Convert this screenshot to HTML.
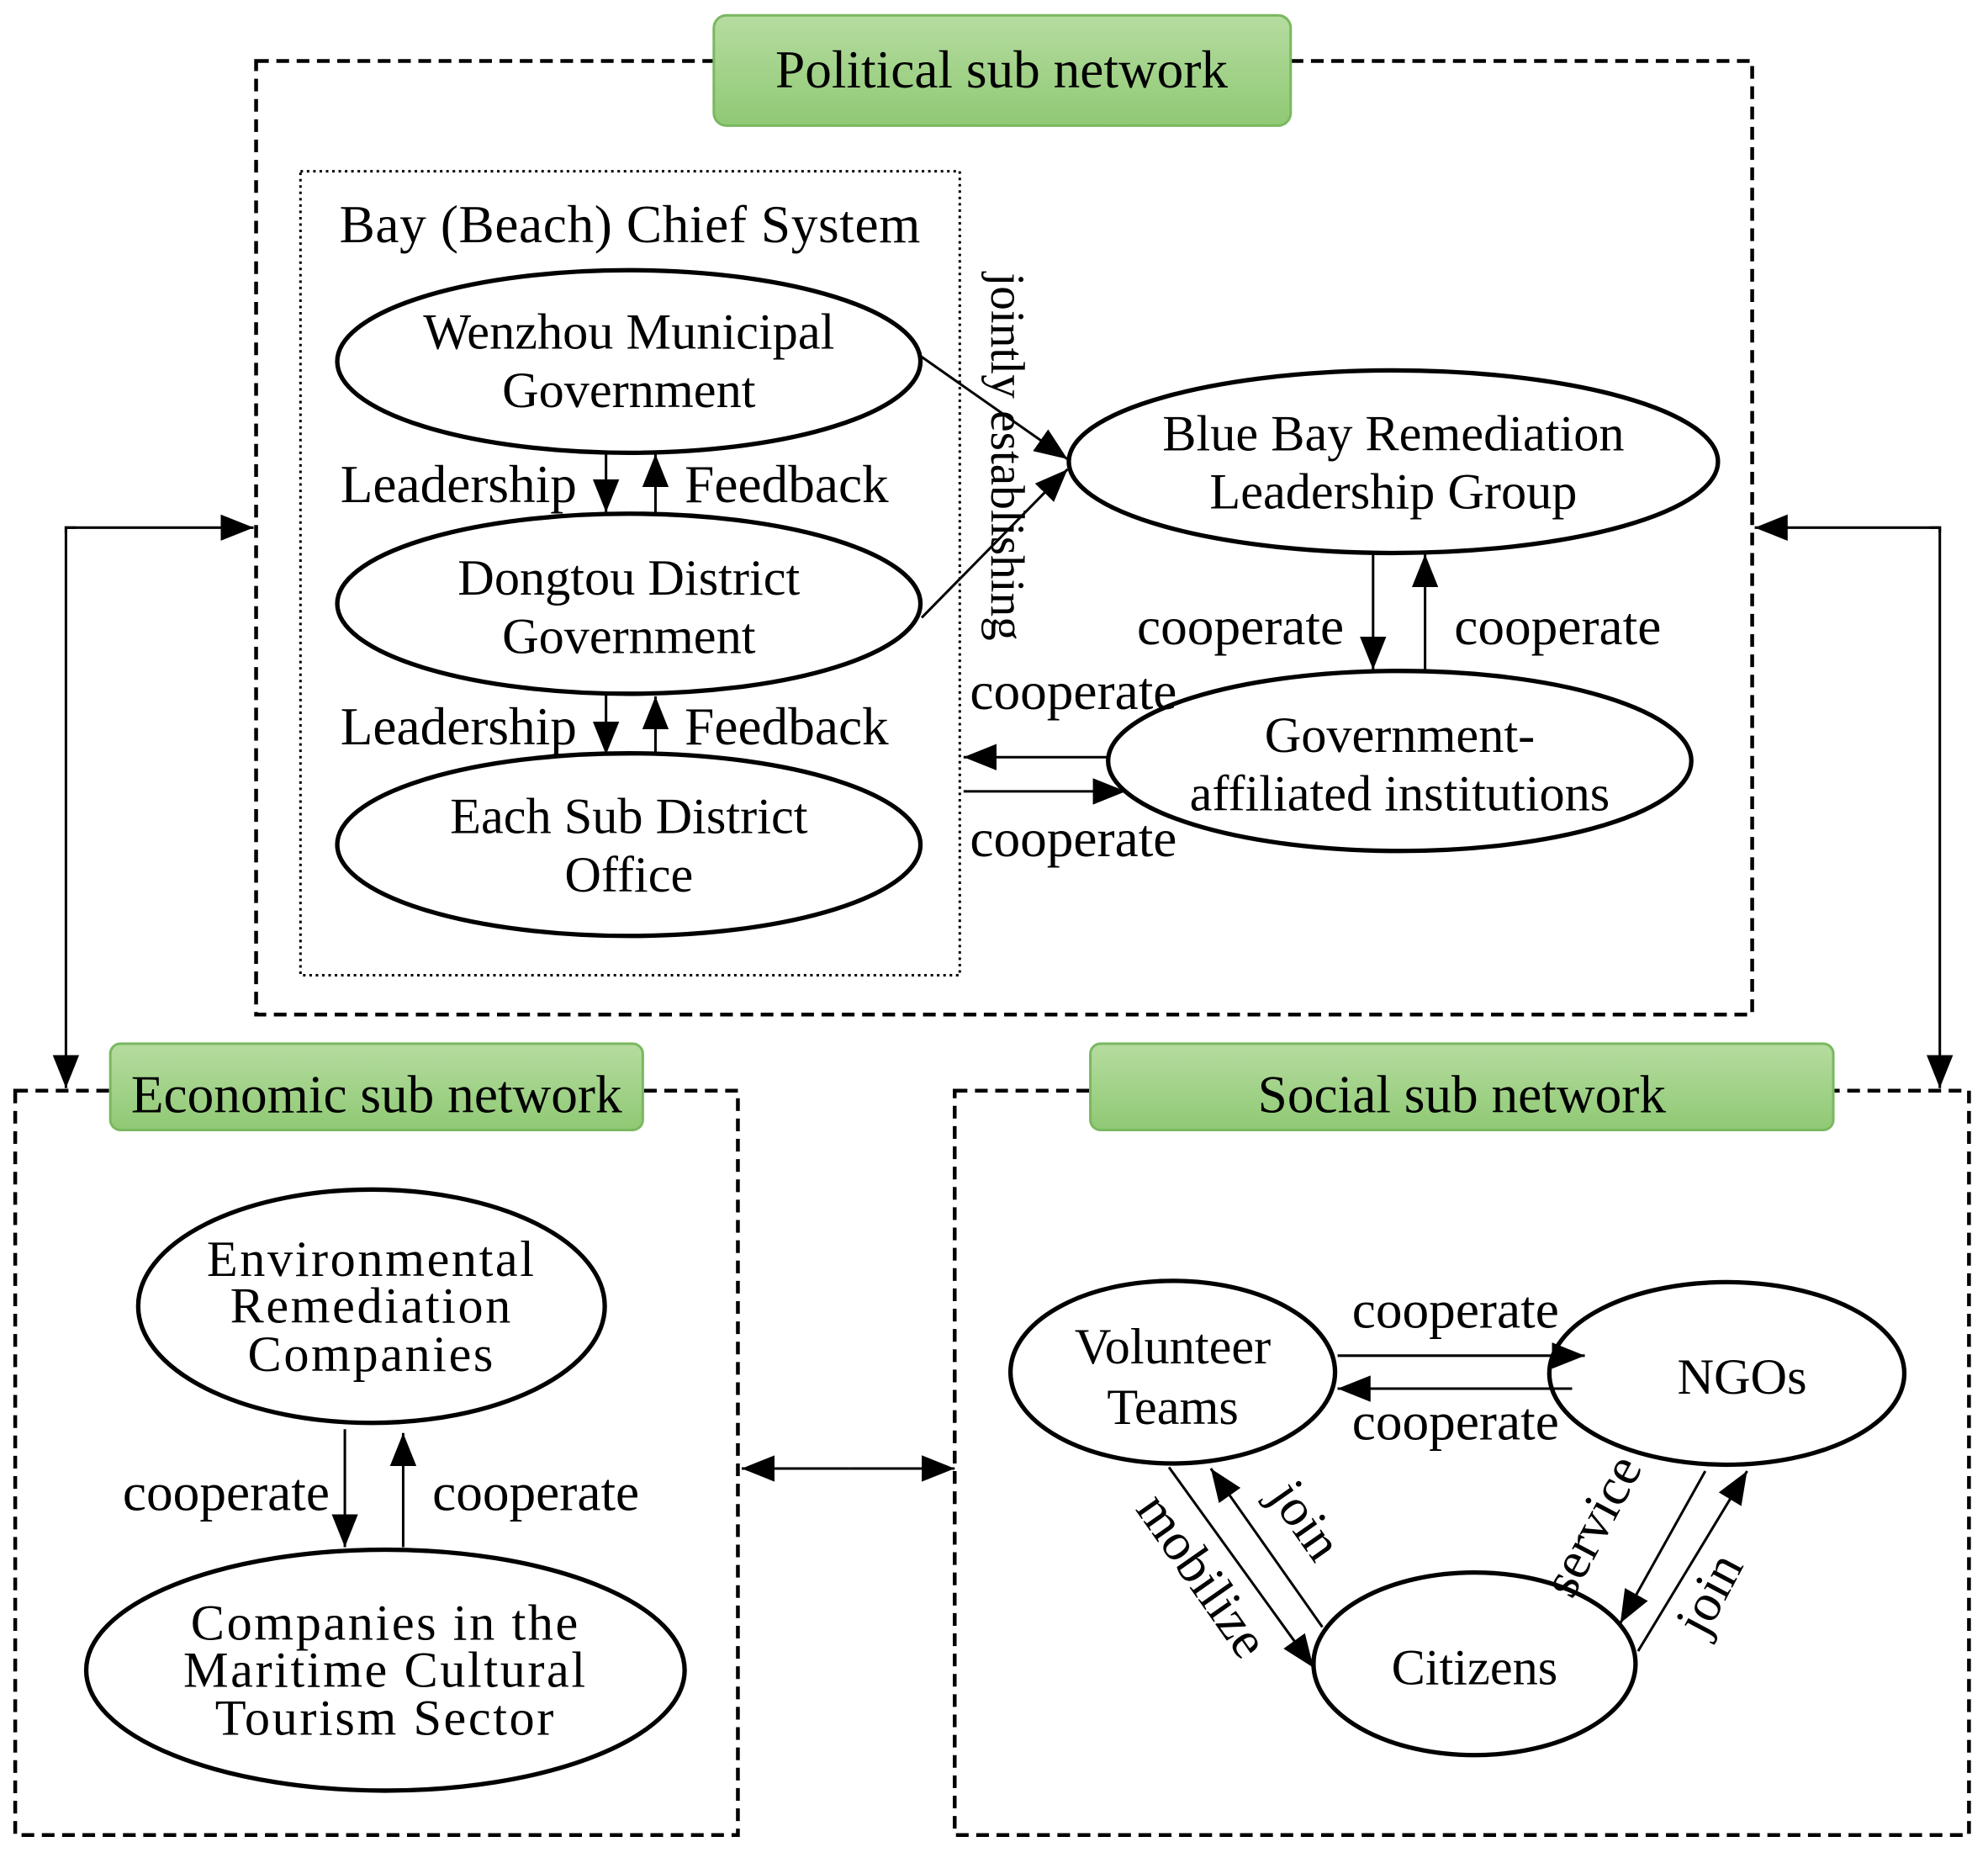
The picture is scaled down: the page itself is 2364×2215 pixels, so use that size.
<!DOCTYPE html>
<html><head><meta charset="utf-8"><style>
html,body{margin:0;padding:0;background:#fff;}
svg{display:block;}
text{font-family:"Liberation Serif",serif;fill:#000;}
</style></head><body>
<svg width="2364" height="2215" viewBox="0 0 1568 1469" xmlns="http://www.w3.org/2000/svg">
<defs>
<linearGradient id="g" x1="0" y1="0" x2="0" y2="1"><stop offset="0" stop-color="#b6dca0"/><stop offset="1" stop-color="#8fc974"/></linearGradient>
<marker id="b" viewBox="0 0 10 10" refX="10" refY="5" markerWidth="26" markerHeight="26" markerUnits="userSpaceOnUse" orient="auto"><path d="M0,1 L10,5 L0,9 z" fill="#000"/></marker>
</defs>
<g fill="none" stroke="#000" stroke-width="3" stroke-dasharray="10,6">
<rect x="202" y="48" width="1180" height="752"/>
<rect x="12" y="860" width="570" height="587"/>
<rect x="753" y="860" width="800" height="587"/>
</g>
<rect x="237" y="135" width="520" height="634" fill="none" stroke="#000" stroke-width="2" stroke-dasharray="2,3"/>
<g stroke="#7ab860" stroke-width="2" fill="url(#g)">
<rect x="563" y="12" width="455" height="87" rx="10"/>
<rect x="87" y="823" width="420" height="68" rx="8"/>
<rect x="860" y="823" width="586" height="68" rx="8"/>
</g>
<g font-size="42" text-anchor="middle">
<text x="790" y="69">Political sub network</text>
<text x="297" y="877">Economic sub network</text>
<text x="1153" y="877">Social sub network</text>
</g>
<g fill="#fff" stroke="#000" stroke-width="3.5">
<ellipse cx="496" cy="285" rx="230" ry="72"/>
<ellipse cx="496" cy="476" rx="230" ry="71"/>
<ellipse cx="496" cy="666" rx="230" ry="72"/>
<ellipse cx="1099" cy="364" rx="256" ry="72"/>
<ellipse cx="1104" cy="600" rx="230" ry="71"/>
<ellipse cx="293" cy="1030" rx="184" ry="92"/>
<ellipse cx="304" cy="1317" rx="236" ry="95"/>
<ellipse cx="925" cy="1082" rx="128" ry="72"/>
<ellipse cx="1362" cy="1083" rx="140" ry="72"/>
<ellipse cx="1163" cy="1312" rx="127" ry="72"/>
</g>
<g font-size="40" text-anchor="middle">
<text x="497" y="191" font-size="42" letter-spacing="0.4">Bay (Beach) Chief System</text>
<text x="496" y="275">Wenzhou Municipal</text>
<text x="496" y="321">Government</text>
<text x="496" y="469">Dongtou District</text>
<text x="496" y="515">Government</text>
<text x="496" y="657">Each Sub District</text>
<text x="496" y="703">Office</text>
<text x="1099" y="355">Blue Bay Remediation</text>
<text x="1099" y="401">Leadership Group</text>
<text x="1104" y="593">Government-</text>
<text x="1104" y="639">affiliated institutions</text>
<g letter-spacing="1.7">
<text x="293" y="1006">Environmental</text>
<text x="293" y="1043">Remediation</text>
<text x="293" y="1081">Companies</text>
<text x="304" y="1293">Companies in the</text>
<text x="304" y="1330">Maritime Cultural</text>
<text x="304" y="1368">Tourism Sector</text>
</g>
<text x="925" y="1075">Volunteer</text>
<text x="925" y="1123">Teams</text>
<text x="1374" y="1099">NGOs</text>
<text x="1163" y="1328">Citizens</text>
</g>
<g font-size="42">
<text x="455" y="396" text-anchor="end">Leadership</text>
<text x="540" y="396">Feedback</text>
<text x="455" y="587" text-anchor="end">Leadership</text>
<text x="540" y="587">Feedback</text>
<text x="1060" y="508" text-anchor="end">cooperate</text>
<text x="1147" y="508">cooperate</text>
<text x="765" y="559">cooperate</text>
<text x="765" y="675">cooperate</text>
<text x="260" y="1191" text-anchor="end">cooperate</text>
<text x="341" y="1191">cooperate</text>
<text x="1148" y="1047" text-anchor="middle">cooperate</text>
<text x="1148" y="1135" text-anchor="middle">cooperate</text>
<text transform="translate(782,215) rotate(90)" font-size="38">jointly establishing</text>
<text transform="translate(895,1190) rotate(55)">mobilize</text>
<text transform="translate(1000,1180) rotate(55)">join</text>
<text transform="translate(1240,1262) rotate(-62)">service</text>
<text transform="translate(1345,1292) rotate(-62)">join</text>
</g>
<g stroke="#000" stroke-width="2" fill="none" marker-end="url(#b)">
<line x1="478" y1="357" x2="478" y2="404"/>
<line x1="517" y1="404" x2="517" y2="358"/>
<line x1="478" y1="548" x2="478" y2="595"/>
<line x1="517" y1="595" x2="517" y2="549"/>
<line x1="1083" y1="437" x2="1083" y2="528"/>
<line x1="1124" y1="528" x2="1124" y2="437"/>
<line x1="725" y1="280" x2="842" y2="362"/>
<line x1="727" y1="487" x2="842" y2="370"/>
<line x1="873" y1="597" x2="760" y2="597"/>
<line x1="760" y1="624" x2="888" y2="624"/>
<line x1="272" y1="1127" x2="272" y2="1220"/>
<line x1="318" y1="1220" x2="318" y2="1130"/>
<line x1="1055" y1="1069" x2="1250" y2="1069"/>
<line x1="1240" y1="1095" x2="1055" y2="1095"/>
<line x1="922" y1="1157" x2="1036" y2="1315"/>
<line x1="1043" y1="1283" x2="955" y2="1158"/>
<line x1="1345" y1="1160" x2="1278" y2="1280"/>
<line x1="1292" y1="1302" x2="1378" y2="1160"/>
<polyline points="52,420 52,416 200,416"/>
<polyline points="60,416 52,416 52,858"/>
<polyline points="1530,420 1530,416 1384,416"/>
<polyline points="1522,416 1530,416 1530,858"/>
<line x1="670" y1="1158" x2="585" y2="1158"/>
<line x1="670" y1="1158" x2="753" y2="1158"/>
</g>
</svg>
</body></html>
